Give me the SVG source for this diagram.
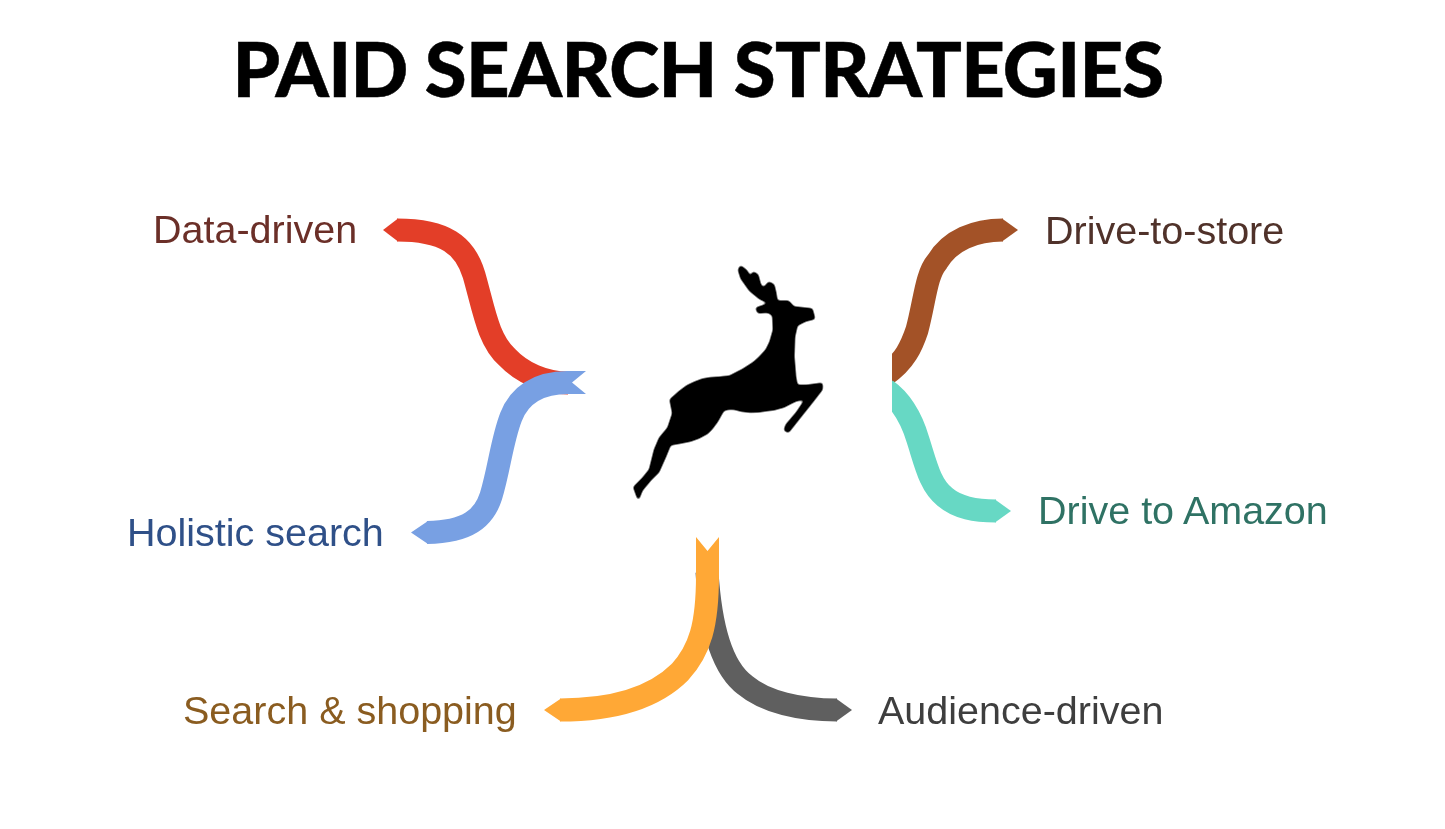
<svg xmlns="http://www.w3.org/2000/svg" width="1445" height="829" viewBox="0 0 1445 829">
<defs>
<filter id="soft" x="-10%" y="-10%" width="120%" height="120%" color-interpolation-filters="sRGB"><feGaussianBlur stdDeviation="0.5"/></filter>
<filter id="deerf" x="-5%" y="-5%" width="110%" height="110%" color-interpolation-filters="sRGB"><feGaussianBlur stdDeviation="1.5"/><feComponentTransfer><feFuncA type="linear" slope="2.4" intercept="-0.65"/></feComponentTransfer></filter>
<clipPath id="rightOfEdge"><rect x="892" y="200" width="200" height="340"/></clipPath>
</defs>
<style>
.l{font-family:"Liberation Sans",Arial,sans-serif;font-size:39.5px}
.t{font-family:Lato,"Liberation Sans",sans-serif;font-size:76px;font-weight:900;fill:#000;stroke:#000;stroke-width:.5px;letter-spacing:-.75px}
.s{fill:none;stroke-width:23px}
</style>
<rect width="1445" height="829" fill="#fff"/>
<text class="t" x="698" y="97" text-anchor="middle">PAID SEARCH STRATEGIES</text>
<g id="connectors" filter="url(#soft)">
<g id="c-data"><path class="s" stroke="#e33e28" d="M397,230 C445,230 465,245 474,275 C484,310 488,340 507,357 C522,373 545,383 568,383"/><path fill="#e33e28" d="M398,218.5 L383,230 398,241.5 Z"/></g>
<g id="c-holistic"><path class="s" stroke="#78a0e3" d="M427,532.5 C468,532 484,518 491,496 C499,470 502,440 511,417 C519,396 537,382.5 568,382.5"/><path fill="#78a0e3" d="M566,371 L586,371 572,382.5 586,394 566,394 Z M428,521 L411,532.5 428,544 Z"/></g>
<g id="c-store"><path class="s" clip-path="url(#rightOfEdge)" stroke="#a35227" d="M885,375 C905,362 912,345 917,330 C925,300 926,275 937,262 C950,240 975,230 1003,230"/><path fill="#a35227" d="M1002,218.5 L1018,230 1002,241.5 Z"/></g>
<g id="c-amazon"><path class="s" clip-path="url(#rightOfEdge)" stroke="#67d8c4" d="M886,390 C903,402 912,420 918,440 C926,465 930,485 945,497 C958,508 975,511 996,511"/><path fill="#67d8c4" d="M995,499.5 L1011,511 995,522.5 Z"/></g>
<g id="c-audience"><path class="s" stroke="#5f5f5f" d="M707,572 C711,635 725,670 745,685 C765,702 800,710 837,710"/><path fill="#5f5f5f" d="M836,698.5 L852,710 836,721.5 Z"/></g>
<g id="c-shopping"><path class="s" stroke="#ffa836" d="M707.5,553 L707.5,575 C707.5,625 700,650 680,672 C655,697 615,710 560,710"/><path fill="#ffa836" d="M696,537 L707.5,551 719,537 719,556 696,556 Z M561,698.5 L544,710 561,721.5 Z"/></g>
</g>
<g id="deer" filter="url(#deerf)"><path transform="translate(620,250) scale(.3333)" fill="#000" stroke="#000" stroke-width="7" stroke-linejoin="round" d="M362,50 L378,62 L392,85 L400,68 L412,75 L420,105 L430,118 L447,98 L460,105 L465,125 L470,155 L505,155 L520,172 L575,178 L582,205 L555,212 L530,225 L522,260 L520,320 L525,380 L530,408 L560,408 L605,402 L605,418 L580,450 L540,500 L505,545 L495,540 L500,525 L530,490 L560,445 L530,450 L510,460 L490,470 L465,477 L440,480 L415,484 L390,485 L365,482 L340,475 L325,476 L310,480 L300,497 L290,515 L275,535 L260,550 L235,563 L210,572 L180,578 L150,583 L135,620 L115,665 L90,690 L65,720 L55,745 L43,712 L70,685 L90,660 L105,600 L120,565 L145,535 L160,490 L152,450 L180,425 L200,410 L225,398 L245,390 L270,385 L300,383 L330,380 L365,362 L400,340 L420,322 L440,300 L452,275 L462,240 L460,195 L445,185 L415,187 L410,175 L430,168 L450,160 L420,145 L390,120 L365,85 L357,60 Z"/></g>
<g id="n-data"><text class="l" x="153" y="243" fill="#6b2f28">Data-driven</text></g>
<g id="n-store"><text class="l" x="1045" y="244" fill="#50322a">Drive-to-store</text></g>
<g id="n-holistic"><text class="l" x="127" y="546" fill="#2f5088">Holistic search</text></g>
<g id="n-amazon"><text class="l" x="1038" y="523.5" fill="#2f7264">Drive to Amazon</text></g>
<g id="n-shopping"><text class="l" x="183" y="724" fill="#8a5c20">Search &amp; shopping</text></g>
<g id="n-audience"><text class="l" x="878" y="724" fill="#3e3e3e">Audience-driven</text></g>
</svg>
